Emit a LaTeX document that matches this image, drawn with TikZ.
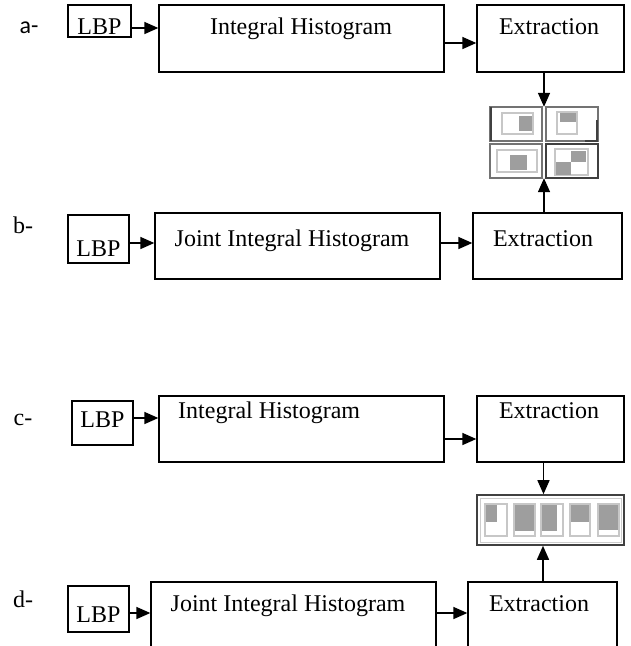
\documentclass[tikz,border=0pt]{standalone}
\usepackage{fontspec}
\setmainfont{Liberation Serif}
\newfontfamily\lblfont{Carlito}
\usetikzlibrary{arrows.meta}
\begin{document}
\begin{tikzpicture}[x=1pt,y=-1pt,
  box/.style={draw=black,line width=1.3pt,inner sep=0pt,fill=white},
  txt/.style={anchor=base,inner sep=0pt,font=\fontsize{24}{28}\selectfont},
  lbl/.style={anchor=base,inner sep=0pt,font=\fontsize{24}{28}\selectfont},
  arr/.style={line width=1.5pt,-{Triangle[length=14pt,width=12pt]}},
  frm/.style={draw=black!55,line width=1.6pt},
  inr/.style={draw=black!22,line width=1.8pt,fill=white},
  blk/.style={fill=black!38},
  cel/.style={draw=black!22,line width=1.2pt,fill=white}]
\useasboundingbox[fill=white] (0,0) rectangle (631,646);
\clip (0,0) rectangle (631,646);
% ---------- row a
\node[lbl,font=\fontsize{24}{28}\lblfont] (la) at (29,33) {a-};
\node[box,minimum width=63pt,minimum height=32pt] (aL) at (99.5,21) {};
\node[box,minimum width=285pt,minimum height=67pt] (aI) at (301.5,38.5) {};
\node[box,minimum width=147pt,minimum height=67pt] (aE) at (550.5,38.5) {};
\node[txt] (aLt) at (99.5,34) {LBP};
\node[txt] (aIt) at (301,34) {Integral Histogram};
\node[txt] (aEt) at (549,34) {Extraction};
\draw[arr] ([yshift=-7pt]aL.east) -- ([yshift=-7pt]aL.east -| aI.west);
\draw[arr] ([yshift=-4.5pt]aI.east) -- ([yshift=-4.5pt]aI.east -| aE.west);
% ---------- grid a
\node[minimum width=108pt,minimum height=71pt,inner sep=0pt] (gA) at (544,142.5) {};
\draw[frm] (490,107) rectangle (542,141);
\draw[black!75,line width=2pt] (491,107) -- (491,141);
\draw[inr] (502,113) rectangle (533,134);
\fill[blk] (519,116) rectangle (532,131);
\draw[frm] (546,107) rectangle (598,141);
\draw[black!75,line width=2pt] (597,120) -- (597,141) -- (585,141);
\draw[inr] (557,112) rectangle (577,134);
\fill[blk] (560,113) rectangle (576,122);
\draw[frm] (490,144) rectangle (542,178);
\draw[inr] (497,150) rectangle (537,172);
\fill[blk] (510,155) rectangle (527,170);
\draw[frm,draw=black!75,line width=2pt] (546,144) rectangle (598,178);
\draw[inr] (555,149) rectangle (588,175);
\fill[blk] (571,151) rectangle (586,162);
\fill[blk] (556,162) rectangle (571,175);
\draw[arr] (gA.north |- aE.south) -- (gA.north);
% ---------- row b
\node[lbl] (lb) at (23,233) {b-};
\node[box,minimum width=61pt,minimum height=48pt] (bL) at (98.5,239) {};
\node[box,minimum width=285pt,minimum height=66pt] (bI) at (297.5,246) {};
\node[box,minimum width=149pt,minimum height=66pt] (bE) at (547.5,246) {};
\node[txt] (bLt) at (98.5,256) {LBP};
\node[txt] (bIt) at (292,246) {Joint Integral Histogram};
\node[txt] (bEt) at (543,246) {Extraction};
\draw[arr] ([yshift=-4pt]bL.east) -- ([yshift=-4pt]bL.east -| bI.west);
\draw[arr] ([yshift=3pt]bI.east) -- ([yshift=3pt]bI.east -| bE.west);
\draw[arr] (gA.south |- bE.north) -- (gA.south);
% ---------- row c
\node[lbl] (lc) at (23,425) {c-};
\node[box,minimum width=61pt,minimum height=44pt] (cL) at (102.5,423) {};
\node[box,minimum width=285pt,minimum height=66pt] (cI) at (301.5,429) {};
\node[box,minimum width=147pt,minimum height=66pt] (cE) at (550.5,429) {};
\node[txt] (cLt) at (102.5,427) {LBP};
\node[txt,anchor=base west] (cIt) at (178,418) {Integral Histogram};
\node[txt] (cEt) at (549,418) {Extraction};
\draw[arr] ([yshift=5pt]cL.east) -- ([yshift=5pt]cL.east -| cI.west);
\draw[arr] ([yshift=-10pt]cI.east) -- ([yshift=-10pt]cI.east -| cE.west);
% ---------- grid c
\node[draw=black!75,line width=1.6pt,minimum width=147pt,minimum height=50pt,inner sep=0pt] (gC) at (550.5,520) {};
\draw[black!20,line width=1pt] (480,498) rectangle (621,542);
\draw[cel] (485,504) rectangle (507,536);
\fill[blk] (486,505) rectangle (497,522);
\draw[cel] (514,504) rectangle (535,536);
\fill[blk] (515,505) rectangle (534,531);
\draw[cel] (541,504) rectangle (563,536);
\fill[blk] (542,505) rectangle (557,531);
\draw[cel] (570,504) rectangle (590,536);
\fill[blk] (571,505) rectangle (589,522);
\draw[cel] (598,504) rectangle (619,536);
\fill[blk] (599,505) rectangle (618,530);
\draw[arr] ([xshift=-7pt]cE.south) -- ([xshift=-7pt]cE.south |- gC.north);
% ---------- row d
\node[lbl] (ld) at (23,607) {d-};
\node[box,minimum width=61pt,minimum height=46pt] (dL) at (98.5,609) {};
\node[box,minimum width=285pt,minimum height=118pt] (dI) at (293.5,641) {};
\node[box,minimum width=149pt,minimum height=118pt] (dE) at (542.5,641) {};
\node[txt] (dLt) at (98.5,622) {LBP};
\node[txt] (dIt) at (288,611) {Joint Integral Histogram};
\node[txt] (dEt) at (539,611) {Extraction};
\draw[arr] ([yshift=-4pt]dL.east) -- ([yshift=-4pt]dL.east -| dI.west);
\draw[arr] ([yshift=28pt]dI.east) -- ([yshift=28pt]dI.east -| dE.west);
\draw[arr] ([xshift=0.5pt]dE.north) -- ([xshift=0.5pt]dE.north |- gC.south);
\end{tikzpicture}
\end{document}
